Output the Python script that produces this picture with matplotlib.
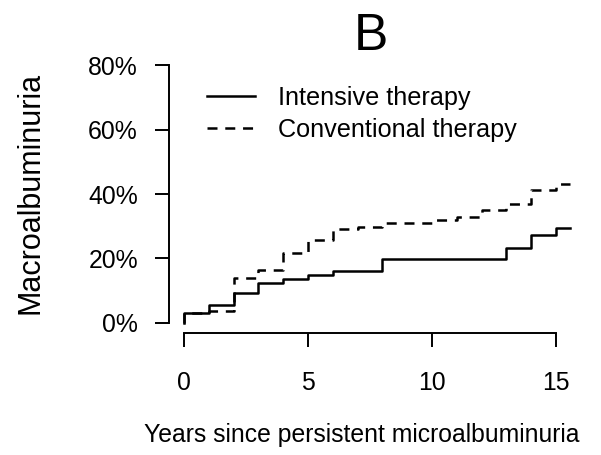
import matplotlib
matplotlib.use("Agg")
import matplotlib.pyplot as plt

# cumulative incidence (%), step changes at each year
intensive_years = [0, 0, 1, 2, 3, 4, 5, 6, 8, 13, 14, 15, 15.55]
intensive_pct = [0, 3.0, 5.6, 9.4, 12.5, 13.6, 14.9, 16.2, 19.9, 23.4, 27.2, 29.5, 29.5]

conventional_years = [0, 0, 1, 2, 3, 4, 5, 6, 7, 8, 10, 11, 12, 13, 14, 15, 15.55]
conventional_pct = [0, 3.0, 3.8, 13.8, 16.4, 21.8, 25.7, 29.1, 29.9, 31.0, 31.9,
                    32.9, 35.0, 37.0, 41.1, 43.1, 43.1]

x_ticks = [0, 5, 10, 15]
y_ticks = [0, 20, 40, 60, 80]
y_tick_labels = ["0%", "20%", "40%", "60%", "80%"]

plt.rcParams["font.family"] = ["Liberation Sans", "DejaVu Sans"]
plt.rcParams["lines.scale_dashes"] = False
FS = 17.8

fig = plt.figure(figsize=(6.01, 4.55), dpi=100)
ax = fig.add_axes([169.1 / 601, 1 - 333.3 / 455, 415.4 / 601, 278.6 / 455])

ax.plot(intensive_years, intensive_pct, drawstyle="steps-post", color="black",
        lw=1.8, label="Intensive therapy")
ax.plot(conventional_years, conventional_pct, drawstyle="steps-post", color="black",
        lw=1.8, dashes=(7.2, 5.6), label="Conventional therapy")

ax.set_xlim(-0.6, 16.15)
ax.set_ylim(-3.2, 83.2)
ax.set_xticks(x_ticks)
ax.set_yticks(y_ticks)
ax.set_yticklabels(y_tick_labels)

for side in ["top", "right"]:
    ax.spines[side].set_visible(False)
ax.spines["left"].set_bounds(0, 80)
ax.spines["bottom"].set_bounds(0, 15)
for side in ["left", "bottom"]:
    ax.spines[side].set_linewidth(1.4)
ax.tick_params(axis="both", direction="out", length=10.4, width=1.4, labelsize=FS)
ax.tick_params(axis="y", pad=12)
ax.tick_params(axis="x", pad=16.5)

ax.legend(loc="upper left", bbox_to_anchor=(0.0912, 0.887), frameon=False,
          fontsize=18.2, handlelength=1.9, handletextpad=0.91, labelspacing=0.32,
          borderpad=0, borderaxespad=0)

ax.text(0.486, 1.0169, "B", transform=ax.transAxes, ha="center", va="baseline",
        fontsize=37)
fig.text(31 / 601, 1 - 193 / 455, "Macroalbuminuria", rotation=90,
         ha="center", va="center", fontsize=22)
fig.text(362 / 601, 1 - 442 / 455, "Years since persistent microalbuminuria",
         ha="center", va="baseline", fontsize=FS)

fig.savefig("out.png", dpi=100)
